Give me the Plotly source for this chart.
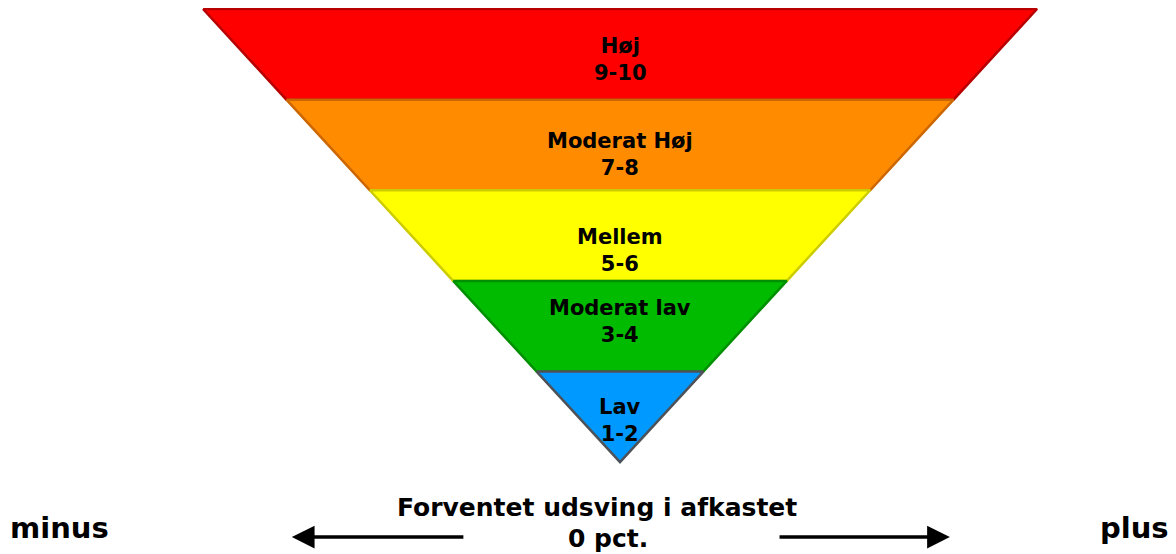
import plotly.graph_objects as go

# ---- data ----
levels = ["Høj", "Moderat Høj", "Mellem", "Moderat lav", "Lav"]
score_ranges = ["9-10", "7-8", "5-6", "3-4", "1-2"]
band_colors = ["#FF0000", "#FF8C00", "#FFFF00", "#00BB00", "#0099FF"]
border_colors = ["#B80000", "#CC6600", "#CCCC00", "#008F00", "#4E5258"]
axis_title = ["Forventet udsving i afkastet", "0 pct."]
side_labels = ["minus", "plus"]

# ---- styling / layout helpers ----
label_shift = [-0.06, -0.11, -0.17, 0.05, -0.04]   # fine tuning of label placement
n = len(levels)
FONT = "DejaVu Sans"

fig = go.Figure()

for i, (lvl, rng, col, bcol) in enumerate(zip(levels, score_ranges, band_colors, border_colors)):
    top = n - i
    bot = n - i - 1
    ht, hb = top / n, bot / n
    xs = [-ht, ht, hb, -hb, -ht]
    ys = [top, top, bot, bot, top]
    fig.add_trace(go.Scatter(
        x=xs, y=ys, mode="lines", fill="toself",
        fillcolor=col, line=dict(color=bcol, width=2.5),
        hoverinfo="skip", showlegend=False, cliponaxis=False,
    ))
    fig.add_annotation(
        x=0, y=(top + bot) / 2 + label_shift[i], xref="x", yref="y",
        text=f"{lvl}<br>{rng}", showarrow=False,
        font=dict(family=FONT, size=21, color="black", weight="bold"),
        xanchor="center", yanchor="middle",
    )

# bottom axis description
fig.add_annotation(x=-0.055, y=-0.50, xref="x", yref="y", text=axis_title[0],
                   showarrow=False, xanchor="center", yanchor="middle",
                   font=dict(family=FONT, size=25, color="black", weight="bold"))
fig.add_annotation(x=-0.029, y=-0.84, xref="x", yref="y", text=axis_title[1],
                   showarrow=False, xanchor="center", yanchor="middle",
                   font=dict(family=FONT, size=25, color="black", weight="bold"))
fig.add_annotation(x=-1.345, y=-0.73, xref="x", yref="y", text=side_labels[0],
                   showarrow=False, xanchor="center", yanchor="middle",
                   font=dict(family=FONT, size=29, color="black", weight="bold"))
fig.add_annotation(x=1.235, y=-0.73, xref="x", yref="y", text=side_labels[1],
                   showarrow=False, xanchor="center", yanchor="middle",
                   font=dict(family=FONT, size=29, color="black", weight="bold"))

# arrows
for head_x, tail_x in [(-0.787, -0.372), (0.791, 0.379)]:
    fig.add_annotation(x=head_x, y=-0.826, ax=tail_x, ay=-0.826,
                       xref="x", yref="y", axref="x", ayref="y",
                       showarrow=True, arrowhead=2, arrowsize=1.3,
                       arrowwidth=3.5, arrowcolor="black", text="")

# page body has an 8px margin: figure pixel = page pixel - 8
OFF = 8
px_per_x = 417.0
px_per_y = 90.8
cx, tip_y, top_y = 620.0 - OFF, 462.0 - OFF, 8.0 - OFF
W, H = 1160, 546

fig.update_layout(
    width=W, height=H,
    margin=dict(l=0, r=0, t=0, b=0),
    paper_bgcolor="white", plot_bgcolor="white",
    xaxis=dict(range=[-cx / px_per_x, (W - cx) / px_per_x], visible=False, fixedrange=True),
    yaxis=dict(range=[-(H - tip_y) / px_per_y, n + (top_y + 1) / px_per_y], visible=False, fixedrange=True),
    showlegend=False,
)

fig.write_html("out.html")
